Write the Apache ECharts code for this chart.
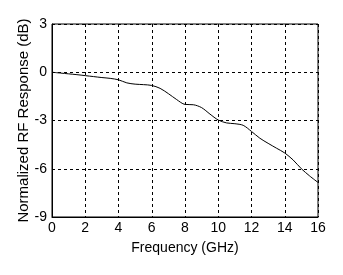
<!DOCTYPE html>
<html><head><meta charset="utf-8">
<script src="https://cdn.jsdelivr.net/npm/echarts@6/dist/echarts.min.js"></script>
<style>html,body{margin:0;padding:0;background:#fff}#c{width:343px;height:275px}</style>
</head><body><div id="c"></div>
<script>
const freqGHz = [0, 0.5, 1, 1.5, 2, 2.5, 3, 3.5, 4, 4.5, 5, 5.5, 6, 6.5, 7, 7.5, 8, 8.5, 9, 9.5, 10, 10.5, 11, 11.5, 12, 12.5, 13, 13.5, 14, 14.5, 15, 15.5, 16];
const responseDB = [0, -0.05, -0.1, -0.15, -0.21, -0.27, -0.33, -0.38, -0.47, -0.66, -0.74, -0.77, -0.82, -1.0, -1.33, -1.7, -2.0, -2.02, -2.2, -2.6, -2.97, -3.15, -3.2, -3.3, -3.68, -4.1, -4.42, -4.72, -5.02, -5.45, -6.0, -6.45, -6.85];
const xTicks = [0, 16, 2];
const yTicks = [-9, 3, 3];

const chart = echarts.init(document.getElementById('c'), null, {renderer: 'canvas'});
const font = 'Liberation Sans, Arial, sans-serif';
chart.setOption({
  backgroundColor: '#fff',
  animation: false,
  grid: {left: 52, top: 24, right: 25, bottom: 58, show: true, borderColor: '#000', borderWidth: 1, backgroundColor: 'transparent'},
  xAxis: {
    type: 'value', min: xTicks[0], max: xTicks[1], interval: xTicks[2],
    name: 'Frequency (GHz)', nameLocation: 'middle', nameGap: 24, nameMoveOverlap: false,
    nameTextStyle: {color: '#000', fontSize: 14, fontFamily: font},
    axisLine: {show: true, onZero: false, lineStyle: {color: '#000', width: 1}},
    axisTick: {show: false},
    axisLabel: {color: '#000', fontSize: 14, fontFamily: font, margin: 4},
    splitLine: {show: true, lineStyle: {color: '#000', type: [3, 3], width: 1}}
  },
  yAxis: {
    type: 'value', min: yTicks[0], max: yTicks[1], interval: yTicks[2],
    name: 'Normalized RF Response (dB)', nameLocation: 'middle', nameGap: 21, nameMoveOverlap: false,
    nameTextStyle: {color: '#000', fontSize: 15, fontFamily: font},
    axisLine: {show: true, onZero: false, lineStyle: {color: '#000', width: 1}},
    axisTick: {show: false},
    axisLabel: {color: '#000', fontSize: 14, fontFamily: font, margin: 5},
    splitLine: {show: true, lineStyle: {color: '#000', type: [3, 3], width: 1}}
  },
  series: [{
    type: 'line', data: freqGHz.map((f, i) => [f, responseDB[i]]),
    showSymbol: false, smooth: 0.3,
    lineStyle: {color: '#000', width: 1}
  }]
});
</script></body></html>
